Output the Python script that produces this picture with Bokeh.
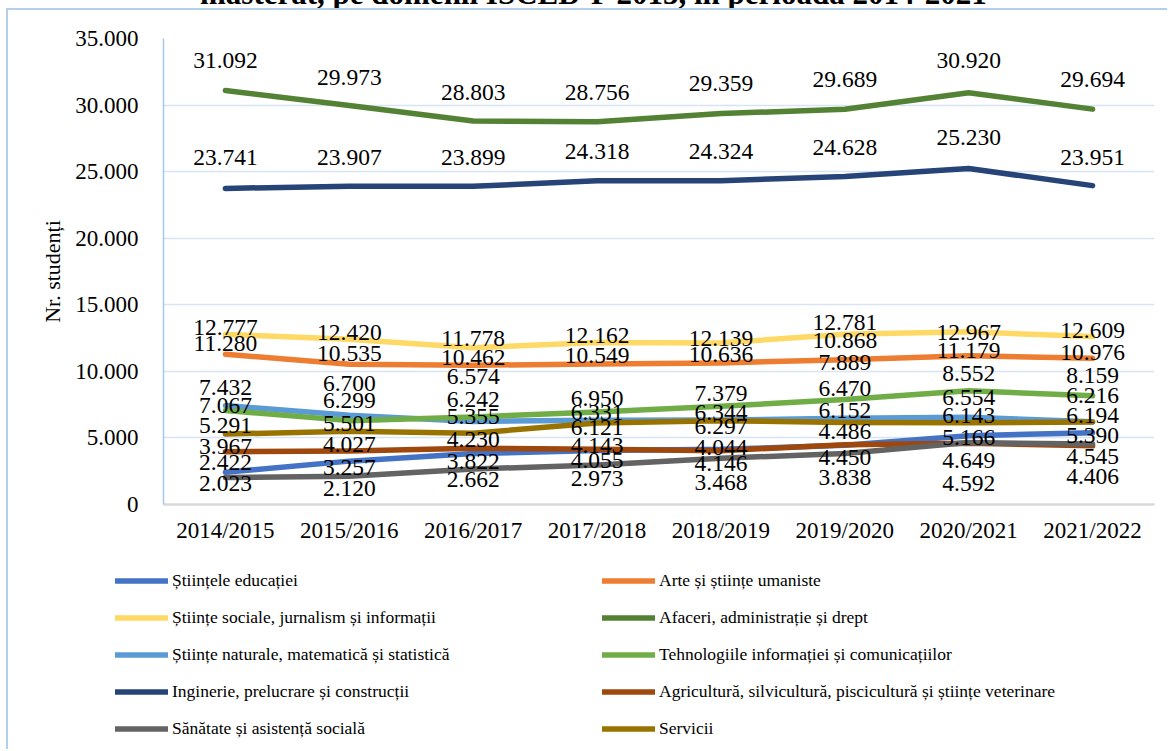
from bokeh.plotting import figure
from bokeh.layouts import column
from bokeh.models import (Range1d, FactorRange, Legend, LegendItem, CustomJSTickFormatter,
                          ColumnDataSource, SingleIntervalTicker, Div)
from bokeh.embed import file_html
from bokeh.resources import INLINE
from bokeh.core.properties import value

title_text = "masterat, pe domenii ISCED-F 2013, în perioada 2014-2021"

years = ["2014/2015", "2015/2016", "2016/2017", "2017/2018",
         "2018/2019", "2019/2020", "2020/2021", "2021/2022"]

edu = [2422, 3257, 3822, 4055, 4146, 4450, 5166, 5390]
arte = [11280, 10535, 10462, 10549, 10636, 10868, 11179, 10976]
sociale = [12777, 12420, 11778, 12162, 12139, 12781, 12967, 12609]
afaceri = [31092, 29973, 28803, 28756, 29359, 29689, 30920, 29694]
naturale = [7432, 6700, 6242, 6331, 6344, 6470, 6554, 6216]
tech = [7067, 6299, 6574, 6950, 7379, 7889, 8552, 8159]
inginerie = [23741, 23907, 23899, 24318, 24324, 24628, 25230, 23951]
agri = [3967, 4027, 4230, 4143, 4044, 4486, 4592, 4406]
sanatate = [2023, 2120, 2662, 2973, 3468, 3838, 4649, 4545]
servicii = [5291, 5501, 5355, 6121, 6297, 6152, 6143, 6194]

names = ["Științele educației", "Arte și științe umaniste",
         "Științe sociale, jurnalism și informații", "Afaceri, administrație și drept",
         "Științe naturale, matematică și statistică", "Tehnologiile informației și comunicațiilor",
         "Inginerie, prelucrare și construcții",
         "Agricultură, silvicultură, piscicultură și științe veterinare",
         "Sănătate și asistență socială", "Servicii"]
series = [edu, arte, sociale, afaceri, naturale, tech, inginerie, agri, sanatate, servicii]

# styles
colors = ["#4472C4", "#ED7D31", "#FFD966", "#548235", "#5B9BD5",
          "#70AD47", "#264478", "#9E480E", "#636363", "#997300"]
# label vertical offsets in screen pixels (positive = down)
label_dy = [
    [-10, 6, 8, 10, 14, 12, 2, 3],
    [-11, -11, -8, -9, -8, -19, -5, -6],
    [-7, -7, -9, -7, -4, -12, 1, -6],
    [-30, -28, -29, -29, -30, -30, -32, -30],
    [-18, -32, -22, -8, -8, -30, -20, -26],
    [-5, -20, -40, -13, -13, -37, -17, -20],
    [-31, -29, -29, -29, -29, -29, -31, -28],
    [-5, -6, -9, -4, -3, -13, 40, 31],
    [6, 12, 10, 14, 24, 24, 18, 13],
    [-9, -8, -17, 4, 6, -12, -7, -7],
]

FONT = "Liberation Serif"
LW = 5.5

p = figure(width=1159, height=550, x_range=FactorRange(*years, range_padding=0),
           y_range=Range1d(0, 35000), output_backend="svg", toolbar_location=None,
           min_border_left=155, min_border_right=13, min_border_top=28, min_border_bottom=56)
p.outline_line_color = None
p.background_fill_color = "white"
p.border_fill_color = "white"

p.xgrid.grid_line_color = None
p.ygrid.grid_line_color = "#D6E4F3"
p.ygrid.grid_line_width = 1.5

p.yaxis.ticker = SingleIntervalTicker(interval=5000)
p.yaxis.formatter = CustomJSTickFormatter(code="""
return tick.toFixed(0).replace(/\\B(?=(\\d{3})+(?!\\d))/g, ".");
""")
p.yaxis.axis_label = "Nr. studenți"
p.yaxis.axis_label_text_font = FONT
p.yaxis.axis_label_text_font_size = "22px"
p.yaxis.axis_label_text_font_style = "normal"
p.yaxis.axis_label_text_color = "black"
p.yaxis.axis_label_standoff = 7
for ax in (p.xaxis, p.yaxis):
    ax.major_label_text_font = FONT
    ax.major_label_text_font_size = "23px"
    ax.major_label_text_color = "black"
    ax.major_tick_line_color = None
    ax.minor_tick_line_color = None
    ax.major_tick_out = 0
    ax.major_tick_in = 0
p.yaxis.axis_line_color = "#A9C6E8"
p.yaxis.axis_line_width = 1.5
p.yaxis.major_label_standoff = 21
p.xaxis.axis_line_color = "#D9D9D9"
p.xaxis.axis_line_width = 2.5
p.xaxis.major_label_standoff = 13

for vals, col in zip(series, colors):
    p.line(x=years, y=vals, line_color=col, line_width=LW, line_cap="round", line_join="round")

for vals, dy in zip(series, label_dy):
    src = ColumnDataSource(dict(x=years, y=vals,
                                t=[f"{v:,}".replace(",", ".") for v in vals],
                                dy=dy))
    p.text(x="x", y="y", text="t", y_offset="dy", source=src,
           text_font=value(FONT), text_font_size="23.5px", text_color="black",
           text_align="center", text_baseline="middle")

# legend panel
p2 = figure(width=1159, height=189, x_range=Range1d(0, 1), y_range=Range1d(0, 1),
            output_backend="svg", toolbar_location=None,
            x_axis_location=None, y_axis_location=None, min_border=0)
p2.frame_align = False
p2.outline_line_color = None
p2.xgrid.grid_line_color = None
p2.ygrid.grid_line_color = None
nan = float("nan")
legend_renderers = [p2.line(x=[0, 1], y=[nan, nan], line_color=col, line_width=LW, line_cap="round")
                    for col in colors]

left_idx = [0, 2, 4, 6, 8]
right_idx = [1, 3, 5, 7, 9]
for idxs, xloc in ((left_idx, 107), (right_idx, 594)):
    leg = Legend(items=[LegendItem(label=names[i], renderers=[legend_renderers[i]]) for i in idxs],
                 location=(xloc, 10), orientation="vertical",
                 glyph_width=53, glyph_height=21, label_height=21, spacing=16,
                 label_standoff=4, padding=0, margin=0,
                 border_line_color=None, background_fill_alpha=0,
                 label_text_font=FONT, label_text_font_size="17.5px", label_text_color="black")
    p2.add_layout(leg, "center")

# title: only its lower edge is visible above the chart box
title_div = Div(text=(f'<div style="position:relative; top:-23px; left:200px; white-space:nowrap; '
                      f'font-family:\'{FONT}\'; font-weight:bold; font-size:31px; line-height:34px; '
                      f'color:black;">{title_text}</div>'),
                width=1169, height=8, margin=0, styles={"overflow": "hidden"})

chart = column(p, p2, spacing=0,
               styles={"margin-left": "6px",
                       "border-left": "2px solid #B4CFEA", "border-top": "2px solid #B4CFEA"})
layout = column(title_div, chart, spacing=0)

open("out.html", "w").write(file_html(layout, INLINE))
